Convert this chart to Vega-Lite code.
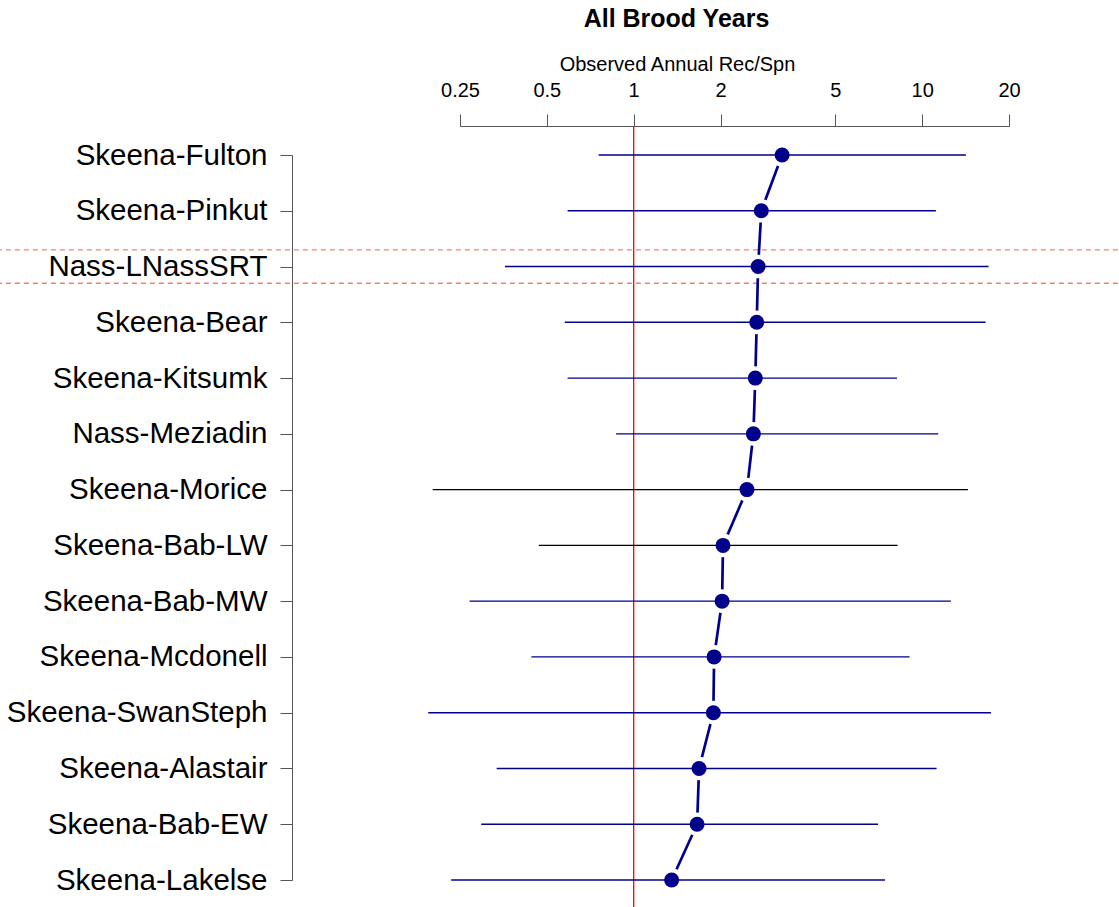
{
  "$schema": "https://vega.github.io/schema/vega-lite/v6.json",
  "width": 549,
  "height": 725,
  "autosize": "none",
  "padding": {"left": 460, "top": 155, "right": 110, "bottom": 27},
  "background": "white",
  "config": {"view": {"stroke": null}, "font": "Liberation Sans"},
  "title": {"text": "All Brood Years", "fontSize": 25, "fontWeight": "bold", "font": "Liberation Sans", "color": "black", "anchor": "middle", "dx": -58, "offset": 22},
  "datasets": {
    "sites": [
      {"idx": 1, "site": "Skeena-Fulton", "est": 3.27, "low": 0.756, "high": 14.18, "series": "a"},
      {"idx": 2, "site": "Skeena-Pinkut", "est": 2.77, "low": 0.590, "high": 11.16, "series": "a"},
      {"idx": 3, "site": "Nass-LNassSRT", "est": 2.70, "low": 0.358, "high": 16.99, "series": "a"},
      {"idx": 4, "site": "Skeena-Bear", "est": 2.67, "low": 0.577, "high": 16.59, "series": "a"},
      {"idx": 5, "site": "Skeena-Kitsumk", "est": 2.64, "low": 0.590, "high": 8.18, "series": "a"},
      {"idx": 6, "site": "Nass-Meziadin", "est": 2.60, "low": 0.869, "high": 11.37, "series": "a"},
      {"idx": 7, "site": "Skeena-Morice", "est": 2.47, "low": 0.201, "high": 14.41, "series": "b"},
      {"idx": 8, "site": "Skeena-Bab-LW", "est": 2.04, "low": 0.469, "high": 8.22, "series": "b"},
      {"idx": 9, "site": "Skeena-Bab-MW", "est": 2.025, "low": 0.270, "high": 12.58, "series": "a"},
      {"idx": 10, "site": "Skeena-Mcdonell", "est": 1.90, "low": 0.442, "high": 9.04, "series": "a"},
      {"idx": 11, "site": "Skeena-SwanSteph", "est": 1.889, "low": 0.194, "high": 17.32, "series": "a"},
      {"idx": 12, "site": "Skeena-Alastair", "est": 1.685, "low": 0.335, "high": 11.22, "series": "a"},
      {"idx": 13, "site": "Skeena-Bab-EW", "est": 1.659, "low": 0.296, "high": 7.03, "series": "a"},
      {"idx": 14, "site": "Skeena-Lakelse", "est": 1.354, "low": 0.233, "high": 7.43, "series": "a"}
    ],
    "refline": [{"value": 1}],
    "separators": [{"pos": 2.7}, {"pos": 3.3}]
  },
  "layer": [
    {
      "layer": [
        {
          "data": {"name": "refline"},
          "mark": {"type": "rule", "color": "#FF0000", "strokeWidth": 1.3},
          "encoding": {
            "x": {"field": "value", "type": "quantitative", "scale": {"type": "log", "domain": [0.25, 20], "nice": false},
              "axis": {"orient": "top", "values": [0.25, 0.5, 1, 2, 5, 10, 20], "format": "~g", "offset": 29, "tickSize": 12, "tickColor": "#555555", "domainColor": "#555555", "tickWidth": 1, "domainWidth": 1, "labelFontSize": 20, "labelFont": "Liberation Sans", "labelColor": "black", "labelPadding": 14, "labelFlush": false, "labelOverlap": false, "grid": false, "title": "Observed Annual Rec/Spn", "titleFontSize": 20, "titleFontWeight": "normal", "titleFont": "Liberation Sans", "titleColor": "black", "titlePadding": 6, "titleX": 217, "titleAlign": "center"}},
            "y": {"datum": 0.48, "type": "quantitative", "scale": {"domain": [1, 14], "reverse": true, "nice": false, "zero": false}, "axis": null},
            "y2": {"datum": 14.6}
          }
        },
        {
          "data": {"name": "separators"},
          "mark": {"type": "rule", "color": "#F7806C", "strokeWidth": 1.3, "strokeDash": [5, 4]},
          "encoding": {
            "y": {"field": "pos", "type": "quantitative", "scale": {"domain": [1, 14], "reverse": true, "nice": false, "zero": false}, "axis": null},
            "x": {"datum": 0.005, "type": "quantitative", "scale": {"type": "log", "domain": [0.25, 20], "nice": false},
              "axis": {"orient": "top", "values": [0.25, 0.5, 1, 2, 5, 10, 20], "format": "~g", "offset": 29, "tickSize": 12, "tickColor": "#555555", "domainColor": "#555555", "tickWidth": 1, "domainWidth": 1, "labelFontSize": 20, "labelFont": "Liberation Sans", "labelColor": "black", "labelPadding": 14, "labelFlush": false, "labelOverlap": false, "grid": false, "title": "Observed Annual Rec/Spn", "titleFontSize": 20, "titleFontWeight": "normal", "titleFont": "Liberation Sans", "titleColor": "black", "titlePadding": 6, "titleX": 217, "titleAlign": "center"}},
            "x2": {"datum": 60}
          }
        }
      ]
    },
    {
      "data": {"name": "sites"},
      "encoding": {
        "y": {
          "field": "site", "type": "nominal", "sort": null,
          "scale": {"type": "point", "padding": 0},
          "axis": {"orient": "left", "offset": 168, "tickSize": 12, "tickColor": "#555555", "domainColor": "#555555", "tickWidth": 1, "domainWidth": 1, "labelFontSize": 29.5, "labelFont": "Liberation Sans", "labelColor": "black", "labelPadding": 13, "title": null, "grid": false, "labelLimit": 400, "labelOverlap": false}
        }
      },
      "layer": [
        {
          "mark": {"type": "line", "color": "#00008B", "strokeWidth": 2.7},
          "encoding": {
            "x": {"field": "est", "type": "quantitative", "scale": {"type": "log", "domain": [0.25, 20], "nice": false},
              "axis": {"orient": "top", "values": [0.25, 0.5, 1, 2, 5, 10, 20], "format": "~g", "offset": 29, "tickSize": 12, "tickColor": "#555555", "domainColor": "#555555", "tickWidth": 1, "domainWidth": 1, "labelFontSize": 20, "labelFont": "Liberation Sans", "labelColor": "black", "labelPadding": 14, "labelFlush": false, "labelOverlap": false, "grid": false, "title": "Observed Annual Rec/Spn", "titleFontSize": 20, "titleFontWeight": "normal", "titleFont": "Liberation Sans", "titleColor": "black", "titlePadding": 6, "titleX": 217, "titleAlign": "center"}},
            "order": {"field": "idx", "type": "quantitative"}
          }
        },
        {
          "mark": {"type": "circle", "color": "white", "size": 560, "opacity": 1},
          "encoding": {
            "x": {"field": "est", "type": "quantitative", "scale": {"type": "log", "domain": [0.25, 20], "nice": false},
              "axis": {"orient": "top", "values": [0.25, 0.5, 1, 2, 5, 10, 20], "format": "~g", "offset": 29, "tickSize": 12, "tickColor": "#555555", "domainColor": "#555555", "tickWidth": 1, "domainWidth": 1, "labelFontSize": 20, "labelFont": "Liberation Sans", "labelColor": "black", "labelPadding": 14, "labelFlush": false, "labelOverlap": false, "grid": false, "title": "Observed Annual Rec/Spn", "titleFontSize": 20, "titleFontWeight": "normal", "titleFont": "Liberation Sans", "titleColor": "black", "titlePadding": 6, "titleX": 217, "titleAlign": "center"}}
          }
        },
        {
          "mark": {"type": "rule", "strokeWidth": 1.4},
          "encoding": {
            "x": {"field": "low", "type": "quantitative", "scale": {"type": "log", "domain": [0.25, 20], "nice": false},
              "axis": {"orient": "top", "values": [0.25, 0.5, 1, 2, 5, 10, 20], "format": "~g", "offset": 29, "tickSize": 12, "tickColor": "#555555", "domainColor": "#555555", "tickWidth": 1, "domainWidth": 1, "labelFontSize": 20, "labelFont": "Liberation Sans", "labelColor": "black", "labelPadding": 14, "labelFlush": false, "labelOverlap": false, "grid": false, "title": "Observed Annual Rec/Spn", "titleFontSize": 20, "titleFontWeight": "normal", "titleFont": "Liberation Sans", "titleColor": "black", "titlePadding": 6, "titleX": 217, "titleAlign": "center"}},
            "x2": {"field": "high"},
            "color": {"field": "series", "type": "nominal", "scale": {"domain": ["a", "b"], "range": ["#00008B", "#000000"]}, "legend": null}
          }
        },
        {
          "mark": {"type": "circle", "color": "#00008B", "size": 225, "opacity": 1},
          "encoding": {
            "x": {"field": "est", "type": "quantitative", "scale": {"type": "log", "domain": [0.25, 20], "nice": false},
              "axis": {"orient": "top", "values": [0.25, 0.5, 1, 2, 5, 10, 20], "format": "~g", "offset": 29, "tickSize": 12, "tickColor": "#555555", "domainColor": "#555555", "tickWidth": 1, "domainWidth": 1, "labelFontSize": 20, "labelFont": "Liberation Sans", "labelColor": "black", "labelPadding": 14, "labelFlush": false, "labelOverlap": false, "grid": false, "title": "Observed Annual Rec/Spn", "titleFontSize": 20, "titleFontWeight": "normal", "titleFont": "Liberation Sans", "titleColor": "black", "titlePadding": 6, "titleX": 217, "titleAlign": "center"}}
          }
        }
      ]
    }
  ],
  "resolve": {"scale": {"y": "independent"}, "axis": {"x": "shared"}}
}
